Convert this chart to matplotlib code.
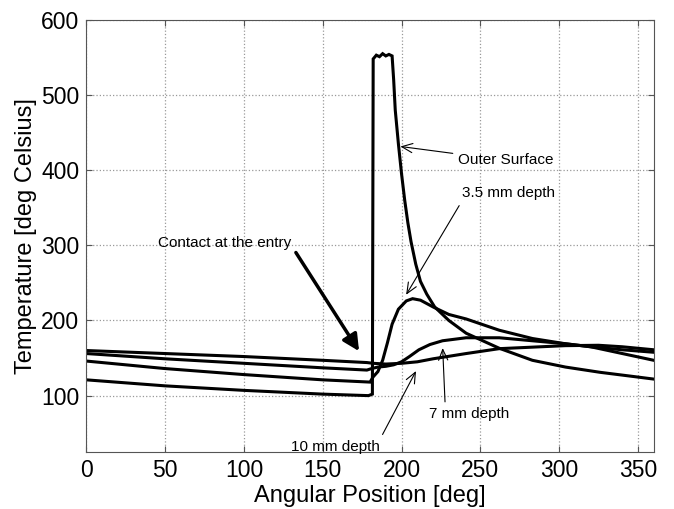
import matplotlib
matplotlib.use('Agg')
import matplotlib.pyplot as plt
import numpy as np

plt.rcParams['font.family'] = ['Liberation Sans', 'DejaVu Sans']

# Temperature profiles (angle in deg, temperature in deg C)
outer_x = [0, 50, 100, 150, 179, 181.5, 182, 184, 186, 188, 190, 192, 194, 195, 196, 198, 200,
           202, 204, 206, 209, 212, 216, 221, 230, 241, 262, 283, 304, 326, 345, 360]
outer_y = [121, 113, 107, 102, 100, 102, 548, 553, 551, 555, 552, 554, 552, 520, 480, 435, 395,
           360, 330, 305, 275, 252, 235, 218, 200, 183, 163, 147, 138, 131, 126, 122]

d35_x = [0, 50, 100, 150, 180, 182, 185, 188, 191, 194, 198, 203, 207, 212, 220, 230, 241,
         262, 283, 304, 320, 340, 360]
d35_y = [146, 136, 128, 121, 118, 125, 132, 147, 170, 195, 215, 226, 229, 227, 218, 208, 202,
         187, 176, 169, 165, 156, 147]

d7_x = [0, 50, 100, 150, 178, 181, 185, 190, 195, 200, 205, 211, 218, 226, 241, 262, 283,
        304, 320, 340, 360]
d7_y = [156, 149, 143, 137, 134, 136, 138, 139, 141, 145, 152, 161, 168, 173, 177, 177, 173,
        169, 165, 161, 157.7]

d10_x = [0, 50, 100, 150, 178, 182, 190, 200, 210, 220, 241, 262, 283, 304, 325, 340, 360]
d10_y = [160, 156, 152, 147, 144, 143, 142, 143, 145, 149, 156, 162.5, 164.5, 166.5, 167, 165, 161]

fig = plt.figure(figsize=(6.74, 5.09), dpi=100)
ax = fig.add_axes([0.128, 0.112, 0.842, 0.849])

for xs, ys in [(outer_x, outer_y), (d35_x, d35_y), (d7_x, d7_y), (d10_x, d10_y)]:
    ax.plot(xs, ys, color='k', lw=2.2, solid_joinstyle='miter')

ax.set_xlim(0, 360)
ax.set_ylim(25, 600)
ax.set_xticks(np.arange(0, 351, 50))
ax.set_yticks(np.arange(100, 601, 100))
ax.grid(True, linestyle=':', color='#999999', lw=0.9)
ax.tick_params(direction='in', top=True, right=True, labelsize=16.5, length=4, color='#555555',
               pad=5)
for s in ax.spines.values():
    s.set_color('#555555')
ax.set_xlabel('Angular Position [deg]', fontsize=17, labelpad=2)
ax.set_ylabel('Temperature [deg Celsius]', fontsize=17, labelpad=3)

fs = 11
thin = dict(arrowstyle='->,head_length=0.7,head_width=0.3', color='k', lw=0.8)
ax.annotate('Outer Surface', xy=(197.5, 432), xytext=(236, 413), fontsize=fs,
            va='center', ha='left', arrowprops=thin)
ax.annotate('3.5 mm depth', xy=(202, 231), xytext=(268, 369), fontsize=fs,
            va='center', ha='center', arrowprops=dict(thin, relpos=(0.0, 0.0)))
ax.annotate('Contact at the entry', xy=(174, 156), xytext=(88, 303), fontsize=fs,
            va='center', ha='center',
            arrowprops=dict(arrowstyle='-|>,head_length=0.9,head_width=0.45', color='k', lw=2.5,
                            relpos=(1.0, 0.3)))
ax.annotate('7 mm depth', xy=(226, 167), xytext=(243, 75), fontsize=fs,
            va='center', ha='center', arrowprops=dict(thin, relpos=(0.2, 1.0)))
ax.annotate('10 mm depth', xy=(210, 136), xytext=(158, 32), fontsize=fs,
            va='center', ha='center', arrowprops=dict(thin, relpos=(1.0, 1.0)))

fig.savefig('out.png', dpi=100)
